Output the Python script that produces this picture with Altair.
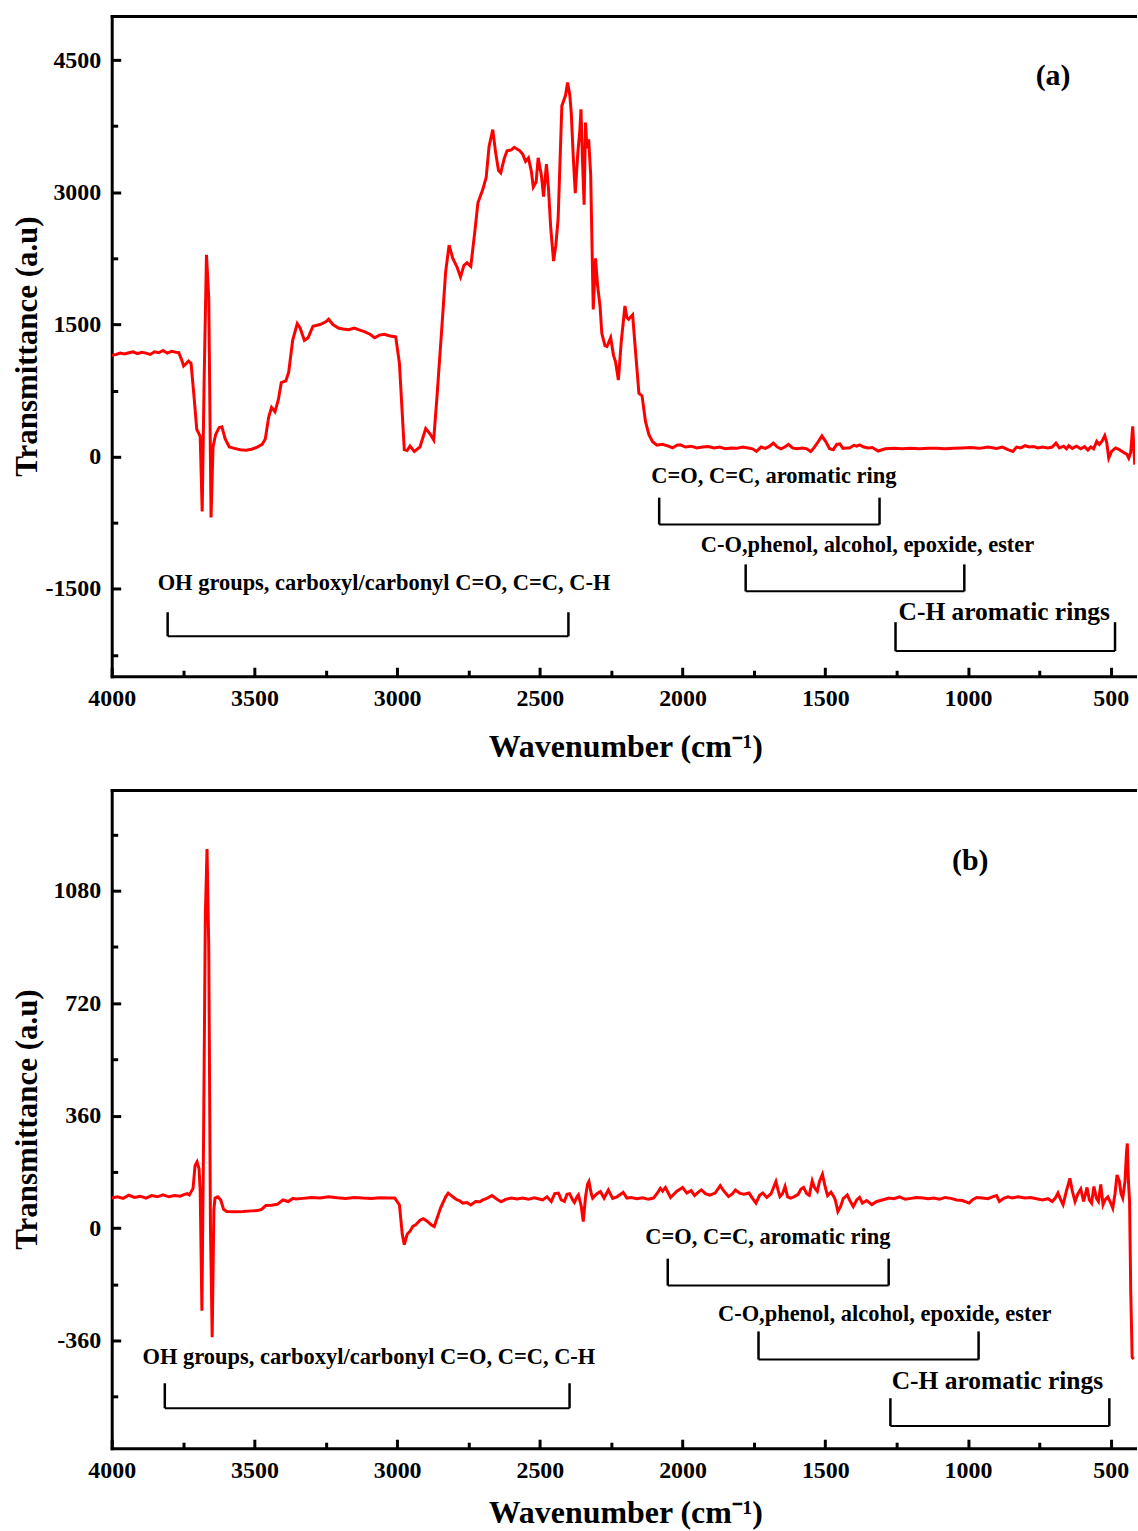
import altair as alt
import pandas as pd

# ---------------- data ----------------
WN_A = [4000, 3985, 3970, 3955, 3940, 3925, 3910, 3895, 3880, 3865, 3850, 3835, 3820, 3805, 3790, 3775,
        3765, 3755, 3748, 3738, 3731, 3722, 3712, 3702, 3690, 3683, 3676, 3668, 3660, 3652, 3645, 3636,
        3624, 3614, 3602, 3588, 3570, 3550, 3530, 3510, 3490, 3473, 3462, 3450, 3440, 3428, 3416, 3406,
        3390, 3380, 3366, 3350, 3340, 3325, 3312, 3295, 3270, 3250, 3240, 3225, 3206, 3190, 3170, 3150,
        3133, 3115, 3095, 3079, 3062, 3045, 3025, 3005, 2992, 2975, 2965, 2955, 2940, 2920, 2900, 2885,
        2872, 2860, 2844, 2830, 2818, 2805, 2790, 2778, 2766, 2755, 2742, 2728, 2717, 2700, 2688, 2678,
        2665, 2655, 2645, 2637, 2625, 2615, 2600, 2590, 2570, 2560, 2550, 2540, 2530, 2523, 2513, 2506,
        2495, 2487, 2477, 2470, 2462, 2452, 2444, 2436, 2423, 2410, 2403, 2395, 2390, 2383, 2376, 2370,
        2367, 2360, 2356, 2350, 2345, 2340, 2335, 2329, 2322, 2313, 2305, 2298, 2289, 2283, 2272, 2265,
        2252, 2242, 2235, 2225, 2215, 2202, 2195, 2189, 2175, 2165, 2153, 2142, 2130, 2118, 2105, 2090,
        2070, 2050, 2035, 2020, 2008, 1990, 1970, 1950, 1930, 1910, 1890, 1870, 1850, 1830, 1810, 1790,
        1770, 1755, 1741, 1725, 1710, 1695, 1682, 1668, 1655, 1642, 1629, 1615, 1600, 1580, 1565, 1551,
        1540, 1525, 1512, 1500, 1485, 1472, 1460, 1449, 1438, 1427, 1415, 1400, 1390, 1380, 1365, 1350,
        1335, 1315, 1290, 1260, 1230, 1200, 1170, 1140, 1110, 1080, 1050, 1020, 990, 960, 930, 900,
        880, 860, 843, 830, 815, 800, 785, 770, 755, 740, 720, 705, 692, 680, 665, 655,
        647, 635, 620, 605, 592, 580, 570, 560, 549, 540, 530, 521, 514, 507, 497, 483,
        470, 460, 451, 444, 437, 430, 423, 416]
T_A = [1150, 1160, 1175, 1165, 1180, 1190, 1170, 1185, 1175, 1160, 1190, 1180, 1205, 1175, 1195, 1185,
       1180, 1100, 1030, 1060, 1085, 1060, 700, 310, 230, -620, 900, 2290, 1800, -690, 110, 250,
       330, 340, 200, 110, 95, 80, 75, 85, 110, 140, 200, 450, 560, 510, 650, 840,
       860, 960, 1320, 1510, 1460, 1320, 1350, 1480, 1500, 1530, 1560, 1500, 1460, 1450, 1440, 1460,
       1440, 1420, 1390, 1350, 1380, 1390, 1370, 1360, 1060, 80, 70, 120, 60, 110, 320, 260,
       190, 700, 1440, 2100, 2400, 2250, 2150, 2040, 2170, 2200, 2160, 2550, 2880, 3030, 3170, 3520,
       3710, 3450, 3250, 3220, 3380, 3470, 3480, 3510, 3470, 3430, 3350, 3390, 3240, 3060, 3120, 3390,
       3200, 2950, 3320, 3050, 2600, 2220, 2400, 2700, 3980, 4100, 4245, 4100, 3900, 3400, 2990, 3300,
       3450, 3700, 3940, 3300, 2860, 3790, 3500, 3600, 3200, 1670, 2250, 1950, 1700, 1400, 1260, 1250,
       1350, 1150, 1080, 870, 1300, 1710, 1580, 1560, 1610, 1200, 720, 690, 400, 250, 170, 130,
       140, 120, 100, 130, 135, 110, 120, 100, 110, 115, 100, 110, 90, 100, 95, 110,
       100, 90, 60, 110, 95, 120, 155, 110, 90, 110, 140, 100, 90, 100, 90, 60,
       100, 170, 235, 180, 90, 80, 140, 145, 95, 100, 100, 130, 120, 135, 110, 100,
       105, 65, 90, 95, 90, 95, 90, 95, 95, 90, 95, 100, 105, 95, 110, 95,
       110, 80, 60, 110, 100, 125, 110, 115, 100, 110, 100, 110, 155, 100, 120, 90,
       125, 95, 120, 90, 115, 75, 110, 90, 175, 140, 180, 240, 160, -15, 60, 100,
       80, 60, 40, 30, -15, 50, 345, -90]

WN_B = [4000, 3980, 3960, 3940, 3920, 3900, 3880, 3860, 3840, 3820, 3800, 3780, 3760, 3745, 3735, 3728,
        3715, 3708, 3701, 3694, 3690, 3684, 3678, 3672, 3666, 3660, 3654, 3648, 3642, 3638, 3628, 3618,
        3608, 3597, 3570, 3540, 3510, 3490, 3475, 3460, 3440, 3420, 3400, 3382, 3365, 3355, 3330, 3300,
        3270, 3240, 3210, 3180, 3150, 3120, 3090, 3060, 3030, 3008, 2992, 2982, 2975, 2965, 2955, 2945,
        2935, 2920, 2908, 2895, 2880, 2870, 2848, 2830, 2821, 2805, 2790, 2782, 2770, 2755, 2742, 2725,
        2710, 2700, 2685, 2668, 2650, 2636, 2620, 2600, 2580, 2560, 2540, 2520, 2502, 2490, 2475, 2460,
        2448, 2435, 2425, 2414, 2405, 2396, 2385, 2379, 2370, 2365, 2355, 2348, 2340, 2333, 2328, 2320,
        2315, 2300, 2288, 2275, 2260, 2245, 2230, 2208, 2195, 2180, 2160, 2140, 2120, 2102, 2090, 2078,
        2070, 2060, 2042, 2020, 2000, 1985, 1970, 1958, 1945, 1934, 1920, 1905, 1886, 1868, 1855, 1839,
        1825, 1815, 1800, 1785, 1767, 1755, 1743, 1730, 1719, 1705, 1690, 1673, 1665, 1659, 1650, 1641,
        1632, 1622, 1610, 1595, 1585, 1576, 1565, 1556, 1546, 1538, 1528, 1520, 1510, 1500, 1492, 1480,
        1470, 1465, 1456, 1446, 1437, 1430, 1423, 1415, 1402, 1390, 1380, 1370, 1355, 1337, 1320, 1300,
        1277, 1260, 1240, 1220, 1200, 1180, 1157, 1140, 1120, 1100, 1080, 1060, 1040, 1020, 996, 985,
        970, 950, 930, 915, 900, 890, 875, 860, 845, 825, 800, 780, 760, 739, 720, 705,
        695, 685, 675, 667, 655, 643, 635, 625, 615, 605, 595, 583, 575, 567, 559, 550,
        543, 535, 527, 520, 510, 500, 493, 485, 478, 470, 464, 458, 450, 445, 442, 438,
        434, 430, 425, 420]
T_B = [96, 100, 95, 105, 98, 102, 96, 104, 100, 106, 100, 104, 102, 108, 110, 106,
       127, 200, 212, 190, 120, -265, 300, 1000, 1214, 900, 0, -350, 60, 96, 100, 90,
       60, 53, 52, 53, 55, 56, 60, 72, 73, 76, 90, 85, 95, 93, 95, 98,
       96, 100, 97, 95, 98, 96, 95, 97, 96, 96, 74, -20, -53, -20, -10, 5,
       10, 25, 30, 22, 10, 5, 64, 100, 112, 100, 90, 88, 80, 82, 74, 85,
       84, 90, 95, 104, 92, 84, 92, 96, 93, 96, 92, 97, 93, 90, 100, 85,
       110, 112, 90, 85, 108, 110, 90, 82, 100, 106, 70, 21, 100, 140, 149, 110,
       96, 110, 117, 96, 122, 95, 100, 114, 96, 98, 94, 97, 92, 96, 110, 127,
       118, 130, 98, 118, 130, 112, 120, 104, 115, 122, 110, 105, 112, 136, 118, 101,
       110, 122, 112, 108, 112, 95, 80, 105, 112, 98, 110, 149, 120, 101, 110, 133,
       100, 96, 100, 108, 125, 130, 110, 105, 151, 130, 118, 150, 172, 130, 104, 115,
       100, 90, 53, 70, 95, 100, 106, 90, 69, 90, 98, 80, 88, 75, 85, 90,
       96, 94, 100, 92, 95, 98, 96, 94, 96, 92, 98, 95, 90, 88, 80, 90,
       98, 96, 94, 100, 104, 85, 95, 100, 96, 100, 96, 98, 94, 90, 94, 85,
       95, 112, 90, 75, 120, 159, 120, 85, 110, 125, 85, 130, 90, 80, 133, 95,
       85, 140, 75, 90, 100, 80, 64, 110, 170, 150, 110, 96, 150, 240, 271, 150,
       85, -200, -414, -420]

# group annotations: label, label position, bracket ends
GROUP_TEXT = ["OH groups, carboxyl/carbonyl C=O, C=C, C-H", "C=O, C=C, aromatic ring",
              "C-O,phenol, alcohol, epoxide, ester", "C-H aromatic rings"]
GROUP_SIZE = [22.5, 22.5, 22.5, 25.5]

A_TX = [3046, 1680, 1352, 873]
A_TY = [-1436, -215, -1007, -1764]
A_BX1 = [3804, 2082, 1779, 1254]
A_BX2 = [2400, 1310, 1013, 485]
A_BYT = [-1764, -464, -1221, -1877]
A_BYB = [-2036, -769, -1527, -2205]

B_TX = [3099, 1701, 1292, 897]
B_TY = [-413, -28, -274, -490]
B_BX1 = [3814, 2052, 1734, 1272]
B_BX2 = [2396, 1278, 963, 505]
B_BYT = [-497, -98, -331, -545]
B_BYB = [-577, -184, -421, -634]

PANEL_TAG = ["(a)", "(b)"]
TAG_X = [702, 992]
TAG_Y = [4320, 1176]

X_DOMAIN = [415, 4000]
X_MAJOR = [4000, 3500, 3000, 2500, 2000, 1500, 1000, 500]
X_MINOR = [3750, 3250, 2750, 2250, 1750, 1250, 750]

A_DOMAIN = [-2490, 5000]
A_MAJOR = [-1500, 0, 1500, 3000, 4500]
A_MINOR = [-2250, -750, 750, 2250, 3750]

B_DOMAIN = [-705, 1403]
B_MAJOR = [-360, 0, 360, 720, 1080]
B_MINOR = [-540, -180, 180, 540, 900, 1260]

FONT = "Liberation Serif"
W = 1026
PLAIN = "'' + datum.value"


def panel(wn, tv, ydom, ymaj, ymin, H, tx, ty, bx1, bx2, byt, byb, tag, tx_tag, ty_tag, xtitle_y):
    df = pd.DataFrame({"wn": wn, "t": tv})
    xs = alt.Scale(domain=X_DOMAIN, reverse=True, nice=False, zero=False)
    ys = alt.Scale(domain=ydom, nice=False, zero=False)

    line = alt.Chart(df).mark_line(color="#ff0000", strokeWidth=3, clip=True).encode(
        x=alt.X("wn:Q", scale=xs, axis=alt.Axis(
            orient="bottom", values=X_MAJOR, ticks=False, tickSize=0, grid=False,
            domainWidth=3, domainColor="black", domainCap="square",
            labelFont=FONT, labelFontSize=24, labelFontWeight="bold", labelColor="black",
            labelPadding=29, labelBaseline="alphabetic", labelFlush=False, labelOverlap=False,
            labelExpr=PLAIN,
            title="Wavenumber (cm⁻¹)", titleFont=FONT, titleFontSize=32, titleFontWeight="bold",
            titleColor="black", titleBaseline="alphabetic", titleY=xtitle_y, titleX=515)),
        y=alt.Y("t:Q", scale=ys, axis=alt.Axis(
            orient="left", values=ymaj, ticks=False, tickSize=0, grid=False,
            domainWidth=3, domainColor="black", domainCap="square",
            labelFont=FONT, labelFontSize=24, labelFontWeight="bold", labelColor="black",
            labelPadding=11, labelFlush=False, labelOverlap=False, labelExpr=PLAIN,
            title="Transmittance (a.u)", titleFont=FONT, titleFontSize=31, titleFontWeight="bold",
            titleColor="black", titleX=-68, titleY=H / 2)),
    )

    def tick_layer(xv, yv, size):
        return alt.Chart(df).mark_point(opacity=0).encode(
            x=alt.X("wn:Q", scale=xs, axis=alt.Axis(
                orient="top", offset=-H, values=xv, labels=False, domain=False, grid=False,
                ticks=True, tickSize=size, tickWidth=3, tickColor="black", title=None)),
            y=alt.Y("t:Q", scale=ys, axis=alt.Axis(
                orient="right", offset=-W, values=yv, labels=False, domain=False, grid=False,
                ticks=True, tickSize=size, tickWidth=3, tickColor="black", title=None)),
        )

    major = tick_layer(X_MAJOR, ymaj, 9)
    minor = tick_layer(X_MINOR, ymin, 6)

    top = alt.Chart(df).mark_point(opacity=0).encode(
        x=alt.X("wn:Q", scale=xs, axis=alt.Axis(
            orient="top", labels=False, ticks=False, grid=False, domain=True,
            domainWidth=3, domainColor="black", domainCap="square", title=None)),
        y=alt.Y("t:Q", scale=ys, axis=None),
    )

    gdf = pd.DataFrame({"label": GROUP_TEXT, "fs": GROUP_SIZE, "tx": tx, "ty": ty,
                        "x1": bx1, "x2": bx2, "yt": byt, "yb": byb})
    texts = alt.Chart(gdf).mark_text(font=FONT, fontWeight="bold", color="black",
                                     baseline="middle", align="center").encode(
        x=alt.X("tx:Q", scale=xs, axis=None),
        y=alt.Y("ty:Q", scale=ys, axis=None),
        text="label:N",
        size=alt.Size("fs:Q", scale=None, legend=None),
    )
    hrule = alt.Chart(gdf).mark_rule(color="black", strokeWidth=2).encode(
        x=alt.X("x1:Q", scale=xs, axis=None), x2="x2:Q",
        y=alt.Y("yb:Q", scale=ys, axis=None),
    )
    lrule = alt.Chart(gdf).mark_rule(color="black", strokeWidth=2.5).encode(
        x=alt.X("x1:Q", scale=xs, axis=None),
        y=alt.Y("yt:Q", scale=ys, axis=None), y2="yb:Q",
    )
    rrule = alt.Chart(gdf).mark_rule(color="black", strokeWidth=2.5).encode(
        x=alt.X("x2:Q", scale=xs, axis=None),
        y=alt.Y("yt:Q", scale=ys, axis=None), y2="yb:Q",
    )
    tagdf = pd.DataFrame({"tag": [tag], "x": [tx_tag], "y": [ty_tag]})
    tagt = alt.Chart(tagdf).mark_text(font=FONT, fontWeight="bold", fontSize=30, color="black",
                                      baseline="middle", align="center").encode(
        x=alt.X("x:Q", scale=xs, axis=None),
        y=alt.Y("y:Q", scale=ys, axis=None),
        text="tag:N",
    )
    return alt.layer(line, major, minor, top, hrule, lrule, rrule, texts, tagt).resolve_axis(
        x="independent", y="independent").properties(width=W, height=H)


pa = panel(WN_A, T_A, A_DOMAIN, A_MAJOR, A_MINOR, 662, A_TX, A_TY, A_BX1, A_BX2, A_BYT, A_BYB,
           PANEL_TAG[0], TAG_X[0], TAG_Y[0], 80)
pb = panel(WN_B, T_B, B_DOMAIN, B_MAJOR, B_MINOR, 660, B_TX, B_TY, B_BX1, B_BX2, B_BYT, B_BYB,
           PANEL_TAG[1], TAG_X[1], TAG_Y[1], 74)

chart = alt.vconcat(pa, pb, spacing=28).properties(
    padding={"left": 12, "top": 14, "right": 0, "bottom": 0},
    background="white",
).configure_view(stroke=None)

chart.save("out.html", embed_options={"renderer": "svg", "actions": False})
